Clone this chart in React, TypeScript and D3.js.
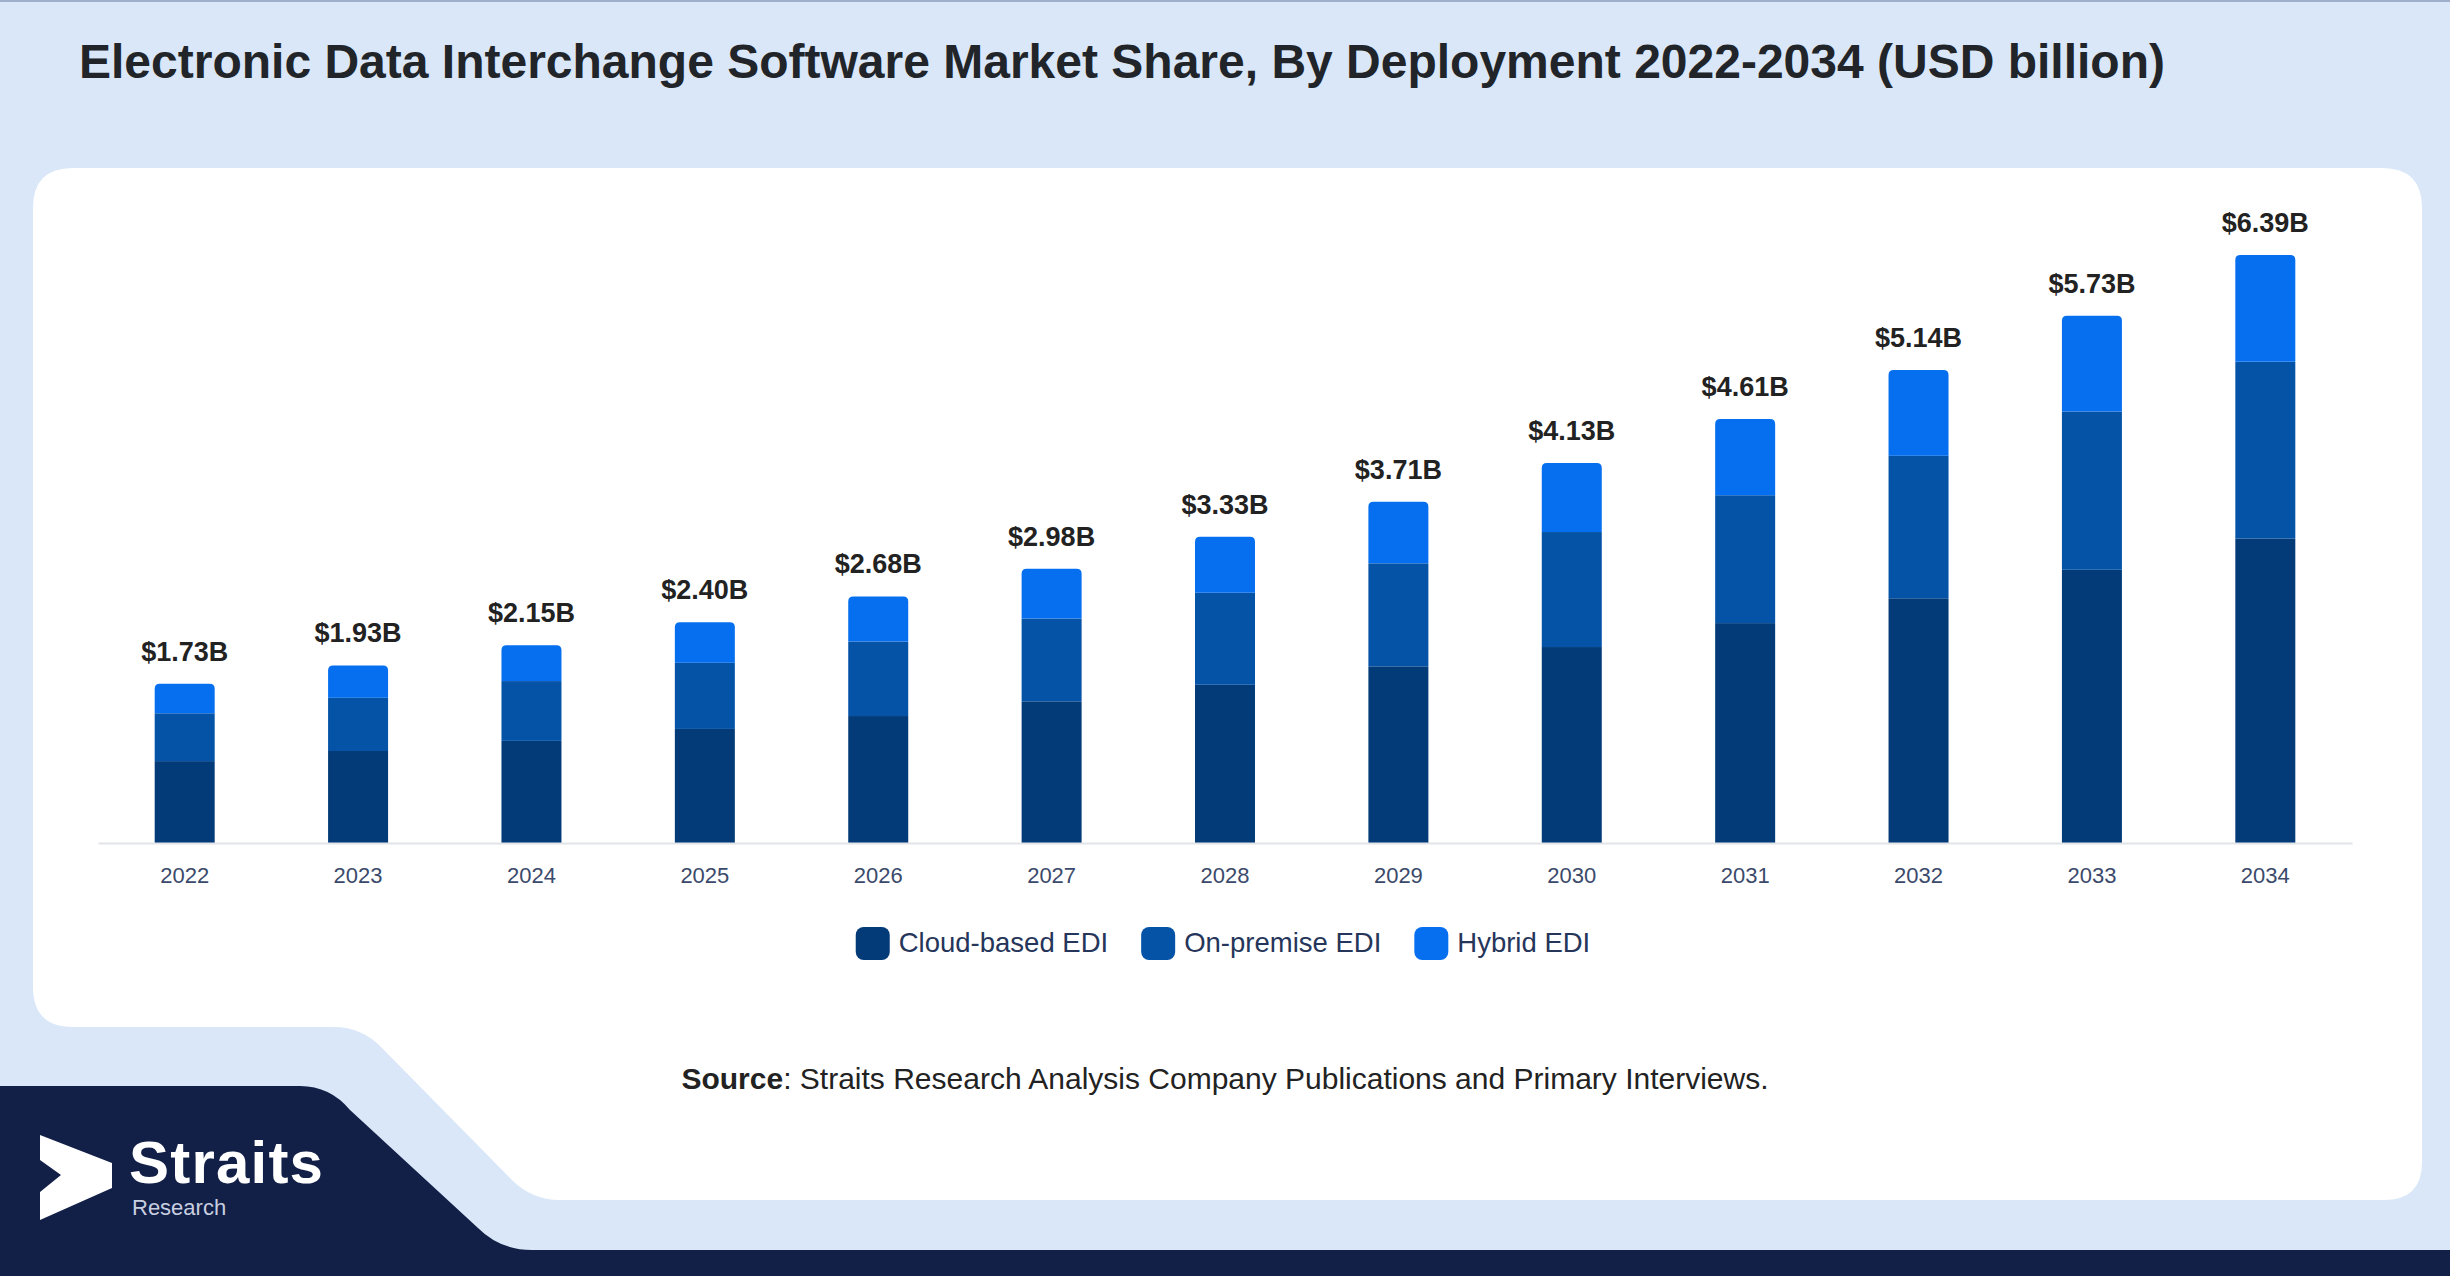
import React, { useEffect, useRef } from 'react';
import * as d3 from 'd3';

const years = ['2022', '2023', '2024', '2025', '2026', '2027', '2028', '2029', '2030', '2031', '2032', '2033', '2034'];
const cloudBased = [0.89, 1.0, 1.11, 1.24, 1.38, 1.54, 1.72, 1.92, 2.13, 2.39, 2.66, 2.97, 3.31];
const onPremise = [0.52, 0.58, 0.65, 0.72, 0.81, 0.9, 1.0, 1.12, 1.25, 1.39, 1.55, 1.72, 1.92];
const hybrid = [0.32, 0.35, 0.39, 0.44, 0.49, 0.54, 0.61, 0.67, 0.75, 0.83, 0.93, 1.04, 1.16];
const seriesNames = ['Cloud-based EDI', 'On-premise EDI', 'Hybrid EDI'];
const seriesColors = ['#033b79', '#0453a7', '#066ff0'];

const title = 'Electronic Data Interchange Software Market Share, By Deployment 2022-2034 (USD billion)';

const W = 2450;
const H = 1276;

const App: React.FC = () => {
  const svgRef = useRef<SVGSVGElement | null>(null);

  useEffect(() => {
    if (!svgRef.current) return;
    document.body.style.margin = '0';

    const svg = d3.select(svgRef.current);
    svg.selectAll('*').remove();

    // background + frame
    svg.append('rect').attr('width', W).attr('height', H).attr('fill', '#dae7f8');
    svg.append('line').attr('x1', 0).attr('x2', W).attr('y1', 1).attr('y2', 1)
      .attr('stroke', '#9eaecb').attr('stroke-width', 2);

    svg.append('path')
      .attr('d', 'M73,168 H2382 Q2422,168 2422,208 V1162 Q2422,1200 2384,1200 H560 Q532,1200 512,1180 L382,1048 Q362,1027 334,1027 H73 Q33,1027 33,987 V208 Q33,168 73,168 Z')
      .attr('fill', '#ffffff');

    svg.append('path')
      .attr('d', 'M0,1086 H300 Q330,1086 350,1110 L478,1228 Q500,1250 532,1250 H2450 V1276 H0 Z')
      .attr('fill', '#121f47');

    // logo
    svg.append('path')
      .attr('d', 'M40,1135 L112,1163 L112,1188 L40,1220 L40,1192 L61,1175 L40,1160 Z')
      .attr('fill', '#ffffff');
    svg.append('text').attr('x', 129).attr('y', 1183)
      .attr('font-family', '"Liberation Sans", Arial, sans-serif').attr('font-weight', 700)
      .attr('font-size', 60).attr('letter-spacing', 1.2).attr('fill', '#ffffff').text('Straits');
    svg.append('text').attr('x', 132).attr('y', 1215)
      .attr('font-family', '"Liberation Sans", Arial, sans-serif')
      .attr('font-size', 22).attr('fill', '#c9cfe0').text('Research');

    // title
    svg.append('text').attr('x', 79).attr('y', 78)
      .attr('font-family', '"Liberation Sans", Arial, sans-serif').attr('font-weight', 700)
      .attr('font-size', 48).attr('fill', '#212529').text(title);

    // chart
    const baseline = 843;
    const xScale = d3.scaleBand<string>()
      .domain(years)
      .range([98, 2352])
      .paddingInner(0.654)
      .paddingOuter(0.327);
    const yScale = d3.scaleLinear().domain([0, 7]).range([baseline, baseline - 7 * 92]);

    const rows = years.map((y, i) => ({ year: y, s0: cloudBased[i], s1: onPremise[i], s2: hybrid[i] }));
    const stacked = d3.stack<any>().keys(['s0', 's1', 's2'])(rows);

    const g = svg.append('g');
    const bw = xScale.bandwidth();
    const r = 5;

    stacked.forEach((layer, li) => {
      layer.forEach((d, i) => {
        const x = xScale(years[i]) || 0;
        const yTop = yScale(d[1]);
        const yBot = yScale(d[0]);
        if (li === stacked.length - 1) {
          g.append('path')
            .attr('d', `M${x},${yBot} V${yTop + r} Q${x},${yTop} ${x + r},${yTop} H${x + bw - r} Q${x + bw},${yTop} ${x + bw},${yTop + r} V${yBot} Z`)
            .attr('fill', seriesColors[li]);
        } else {
          g.append('rect')
            .attr('x', x).attr('y', yTop)
            .attr('width', bw).attr('height', yBot - yTop)
            .attr('fill', seriesColors[li]);
        }
      });
    });

    // totals
    g.selectAll('text.total')
      .data(rows)
      .enter()
      .append('text')
      .attr('class', 'total')
      .attr('x', (d) => (xScale(d.year) || 0) + bw / 2)
      .attr('y', (d) => yScale(d.s0 + d.s1 + d.s2) - 23)
      .attr('text-anchor', 'middle')
      .attr('font-family', '"Liberation Sans", Arial, sans-serif')
      .attr('font-weight', 700)
      .attr('font-size', 27)
      .attr('fill', '#222222')
      .text((d) => `$${(d.s0 + d.s1 + d.s2).toFixed(2)}B`);

    // x axis
    const axis = svg.append('g')
      .attr('transform', `translate(0,${baseline})`)
      .call(d3.axisBottom(xScale).tickSize(0).tickPadding(24));
    axis.select('.domain').attr('stroke', '#e2e4e8').attr('stroke-width', 2);
    axis.selectAll('.tick text')
      .attr('font-family', '"Liberation Sans", Arial, sans-serif')
      .attr('font-size', 22)
      .attr('fill', '#3b4a6b');

    // legend
    const legend = svg.append('g');
    let cursor = 0;
    seriesNames.forEach((name, i) => {
      legend.append('rect')
        .attr('x', cursor).attr('y', 927)
        .attr('width', 34).attr('height', 33)
        .attr('rx', 8).attr('fill', seriesColors[i]);
      const t = legend.append('text')
        .attr('x', cursor + 43).attr('y', 952)
        .attr('font-family', '"Liberation Sans", Arial, sans-serif')
        .attr('font-size', 27.5)
        .attr('fill', '#26365a')
        .text(name);
      const len = (t.node() as SVGTextElement).getComputedTextLength();
      cursor += 43 + len + 33;
    });
    const legendWidth = cursor - 33;
    legend.attr('transform', `translate(${1223 - legendWidth / 2},0)`);

    // source
    const src = svg.append('text').attr('x', 1225).attr('y', 1089)
      .attr('text-anchor', 'middle')
      .attr('font-family', '"Liberation Sans", Arial, sans-serif')
      .attr('font-size', 30).attr('fill', '#222222');
    src.append('tspan').attr('font-weight', 700).text('Source');
    src.append('tspan').text(': Straits Research Analysis Company Publications and Primary Interviews.');
  }, []);

  return (
    <svg ref={svgRef} width={W} height={H} style={{ position: 'absolute', left: 0, top: 0, display: 'block' }}>
      {/* drawn in useEffect */}
    </svg>
  );
};

export default App;
